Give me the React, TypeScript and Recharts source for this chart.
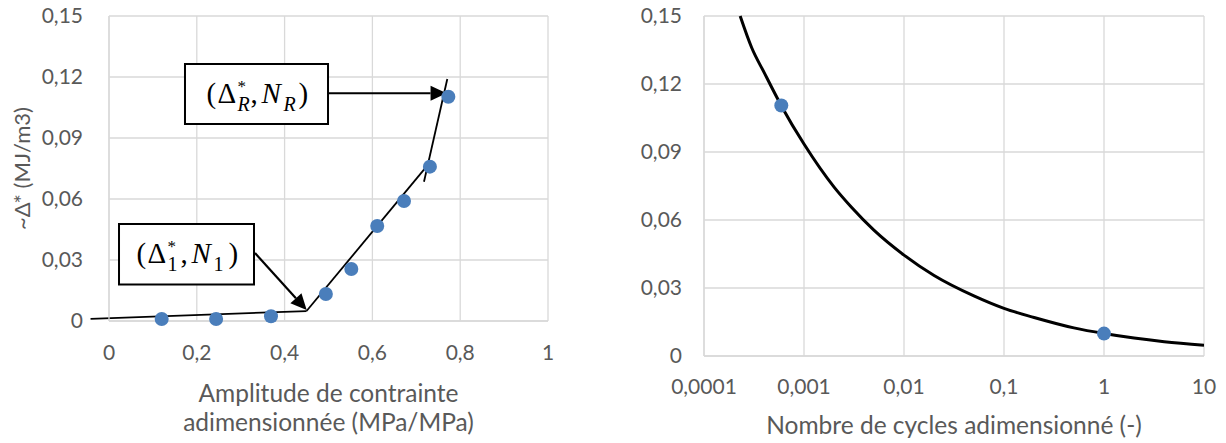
import React from 'react';
import {
  ComposedChart,
  Scatter,
  Line,
  XAxis,
  YAxis,
  CartesianGrid,
  ReferenceLine,
  ReferenceArea,
} from 'recharts';

// left chart: measured points
const amplitude = [0.12, 0.244, 0.369, 0.494, 0.552, 0.611, 0.672, 0.731, 0.773];
const energy = [0.001, 0.001, 0.0023, 0.0133, 0.0256, 0.0467, 0.059, 0.0759, 0.1103];

// left chart: hand-drawn fit segments [x1, y1, x2, y2]
const segments = [
  [-0.042, 0.001, 0.45, 0.0049],
  [0.45, 0.0049, 0.725, 0.0764],
  [0.7175, 0.0685, 0.7706, 0.119],
];

// left chart: annotation boxes [x1, x2, y1, y2] and arrows [x1, y1, x2, y2]
const boxR = [0.1731, 0.4989, 0.0969, 0.1264];
const box1 = [0.0228, 0.3303, 0.018, 0.0477];
const arrowR = [0.4989, 0.112, 0.769, 0.112];
const arrow1 = [0.3326, 0.0334, 0.4503, 0.0054];

// right chart
const curveX = [0.00023, 0.0003, 0.0004, 0.0006, 0.001, 0.002, 0.003, 0.005, 0.01, 0.02, 0.05, 0.1, 0.2, 0.5, 1, 2, 4, 10];
const curveY = [0.15, 0.136, 0.125, 0.11, 0.0935, 0.0745, 0.0655, 0.0555, 0.0445, 0.0355, 0.0265, 0.021, 0.017, 0.0124, 0.0099, 0.0079, 0.0063, 0.0047];
const cyclesX = [0.000593, 1];
const cyclesY = [0.1105, 0.00988];

const xTicksLeft = [0, 0.2, 0.4, 0.6, 0.8, 1];
const xTicksRight = [0.0001, 0.001, 0.01, 0.1, 1, 10];
const yTicks = [0, 0.03, 0.06, 0.09, 0.12, 0.15];

const pointsLeft = amplitude.map((x, i) => ({ x, y: energy[i] }));
const curve = curveX.map((x, i) => ({ x, y: curveY[i] }));
const pointsRight = cyclesX.map((x, i) => ({ x, y: cyclesY[i] }));

const FONT = 'Lato, sans-serif';
const TXT = '#595959';
const GRID = '#d9d9d9';
const BLUE = '#4a7ebb';
const MATH = '"Liberation Serif", serif';

const fmt = (v: number) => String(v).replace('.', ',');
const tickStyle = { fontFamily: FONT, fontSize: 21, fill: TXT };
const titleStyle = { fontFamily: FONT, fontSize: 24.5, fill: TXT };

const dot = (p: any) => <circle cx={p.cx} cy={p.cy} r={7} fill={BLUE} />;

const arrowShape = (p: any) => {
  const { x1, y1, x2, y2 } = p;
  const a = Math.atan2(y2 - y1, x2 - x1);
  const len = 16;
  const half = 7.5;
  const bx = x2 - len * Math.cos(a);
  const by = y2 - len * Math.sin(a);
  const nx = -Math.sin(a) * half;
  const ny = Math.cos(a) * half;
  return (
    <g>
      <line x1={x1} y1={y1} x2={bx} y2={by} stroke="#000" strokeWidth={2.2} />
      <polygon points={`${x2},${y2} ${bx + nx},${by + ny} ${bx - nx},${by - ny}`} fill="#000" />
    </g>
  );
};

// (Δ*_sub, N_sub) written as one text with positioned tspans
const mathLabel = (sub: string) => (p: any) => {
  const vb = p.viewBox;
  const cx = vb.x + vb.width / 2;
  const base = vb.y + vb.height / 2 + 9;
  const st = sub === 'R' ? 'italic' : 'normal';
  return (
    <text fontFamily={MATH} fill="#000" fontSize={29}>
      <tspan x={cx - 50} y={base}>(</tspan>
      <tspan x={cx - 39} y={base}>Δ</tspan>
      <tspan x={cx - 19} y={base - 11} fontSize={17}>*</tspan>
      <tspan x={cx - 19} y={base + 8} fontSize={20} fontStyle={st}>{sub}</tspan>
      <tspan x={cx - 6} y={base}>,</tspan>
      <tspan x={cx + 5} y={base} fontStyle="italic">N</tspan>
      <tspan x={cx + 27} y={base + 8} fontSize={20} fontStyle={st}>{sub}</tspan>
      <tspan x={cx + 42} y={base}>)</tspan>
    </text>
  );
};

const leftXTitle = (p: any) => {
  const vb = p.viewBox;
  const cx = vb.x + vb.width / 2;
  return (
    <text x={cx} y={vb.y + 71} textAnchor="middle" dominantBaseline="central" style={titleStyle}>
      <tspan x={cx}>Amplitude de contrainte</tspan>
      <tspan x={cx} dy={28.5}>adimensionnée (MPa/MPa)</tspan>
    </text>
  );
};

const leftYTitle = (p: any) => {
  const vb = p.viewBox;
  const x = vb.x - 18;
  const y = vb.y + vb.height / 2;
  return (
    <text x={x} y={y} transform={`rotate(-90, ${x}, ${y})`} textAnchor="middle" dominantBaseline="central" style={{ ...tickStyle, fontSize: 22 }}>
      ~Δ* (MJ/m3)
    </text>
  );
};

const rightXTitle = (p: any) => {
  const vb = p.viewBox;
  const cx = vb.x + vb.width / 2;
  return (
    <text x={cx} y={vb.y + 68} textAnchor="middle" dominantBaseline="central" style={titleStyle}>
      Nombre de cycles adimensionné (-)
    </text>
  );
};

export default function App() {
  return (
    <div style={{ position: 'absolute', left: 0, top: 0, width: 1226, height: 443, background: '#fff' }}>
      <div style={{ position: 'absolute', left: 0, top: 0 }}>
        <ComposedChart width={600} height={443} margin={{ top: 16, right: 52, left: 39, bottom: 12 }}>
          <CartesianGrid stroke={GRID} strokeWidth={1.3} />
          <XAxis
            type="number"
            dataKey="x"
            domain={[0, 1]}
            ticks={xTicksLeft}
            tickFormatter={fmt}
            tick={tickStyle}
            tickLine={false}
            tickMargin={18}
            axisLine={{ stroke: GRID, strokeWidth: 1.3 }}
            height={110}
            label={leftXTitle}
          />
          <YAxis
            type="number"
            dataKey="y"
            domain={[0, 0.15]}
            ticks={yTicks}
            tickFormatter={fmt}
            tick={tickStyle}
            tickLine={false}
            tickMargin={20}
            axisLine={{ stroke: GRID, strokeWidth: 1.3 }}
            width={70}
            label={leftYTitle}
          />
          <ReferenceArea x1={boxR[0]} x2={boxR[1]} y1={boxR[2]} y2={boxR[3]} fill="#fff" fillOpacity={1} stroke="#000" strokeWidth={2} label={mathLabel('R')} />
          <ReferenceArea x1={box1[0]} x2={box1[1]} y1={box1[2]} y2={box1[3]} fill="#fff" fillOpacity={1} stroke="#000" strokeWidth={2} label={mathLabel('1')} />
          <Scatter data={pointsLeft} dataKey="y" shape={dot} isAnimationActive={false} />
          {segments.map((s, i) => (
            <ReferenceLine
              key={i}
              segment={[{ x: s[0], y: s[1] }, { x: s[2], y: s[3] }]}
              stroke="#000"
              strokeWidth={1.8}
              ifOverflow="visible"
            />
          ))}
          <ReferenceLine segment={[{ x: arrowR[0], y: arrowR[1] }, { x: arrowR[2], y: arrowR[3] }]} shape={arrowShape} ifOverflow="visible" />
          <ReferenceLine segment={[{ x: arrow1[0], y: arrow1[1] }, { x: arrow1[2], y: arrow1[3] }]} shape={arrowShape} ifOverflow="visible" />
        </ComposedChart>
      </div>
      <div style={{ position: 'absolute', left: 620, top: 0 }}>
        <ComposedChart width={606} height={443} margin={{ top: 16, right: 22, left: 20, bottom: 12 }}>
          <CartesianGrid stroke={GRID} strokeWidth={1.3} />
          <XAxis
            type="number"
            dataKey="x"
            scale="log"
            domain={[0.0001, 10]}
            allowDataOverflow
            ticks={xTicksRight}
            tickFormatter={fmt}
            tick={tickStyle}
            tickLine={false}
            tickMargin={17}
            axisLine={{ stroke: GRID, strokeWidth: 1.3 }}
            height={75}
            label={rightXTitle}
          />
          <YAxis
            type="number"
            dataKey="y"
            domain={[0, 0.15]}
            ticks={yTicks}
            tickFormatter={fmt}
            tick={tickStyle}
            tickLine={false}
            tickMargin={16}
            axisLine={{ stroke: GRID, strokeWidth: 1.3 }}
            width={64}
          />
          <Line data={curve} dataKey="y" type="monotone" stroke="#000" strokeWidth={3} dot={false} isAnimationActive={false} />
          <Scatter data={pointsRight} dataKey="y" shape={dot} isAnimationActive={false} />
        </ComposedChart>
      </div>
    </div>
  );
}
